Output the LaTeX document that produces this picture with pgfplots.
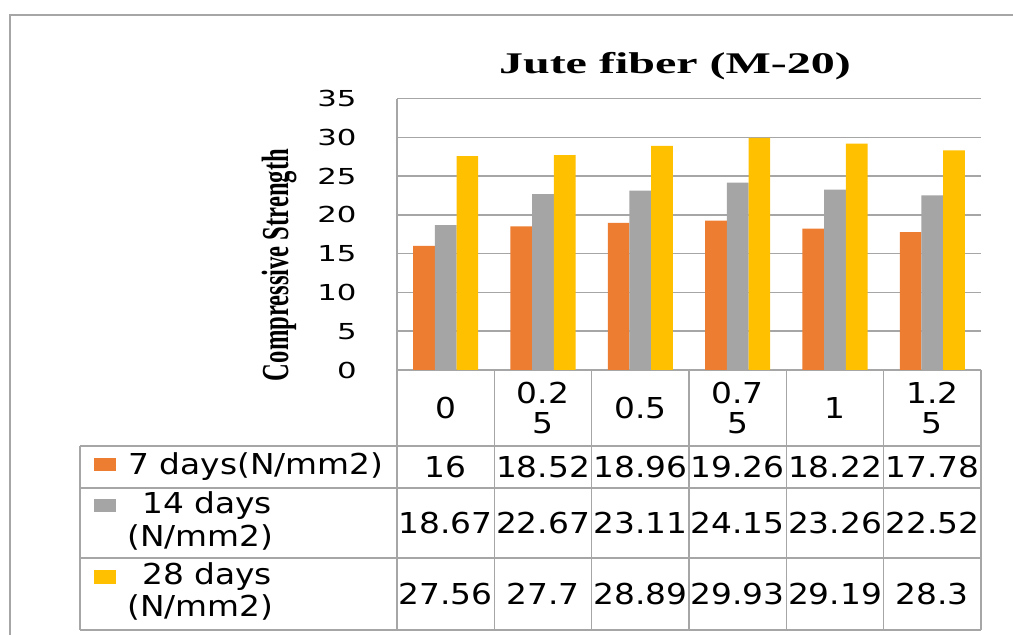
\documentclass[border=0pt]{standalone}
\usepackage{pgfplots}
\pgfplotsset{compat=1.18}
\usepackage{fontspec}
\setmainfont{DejaVu Sans}
\newfontfamily\serifb{Liberation Serif}
\definecolor{c7}{HTML}{ED7D31}
\definecolor{c14}{HTML}{A5A5A5}
\definecolor{c28}{HTML}{FFC000}
\definecolor{gl}{HTML}{A6A6A6}
\newcommand\tc[1]{\scalebox{1.14}[1]{#1}}
\newcommand\tf{\fontsize{14.4}{15}\selectfont}
\begin{document}
\begin{tikzpicture}
\begin{scope}[x=0.5pt,y=-0.5pt]
\useasboundingbox (0,0) rectangle (1013,635);
\fill[white] (0,0) rectangle (1013,635);
\draw[gl, line width=1pt] (10,640) -- (10,15) -- (1013,15);
\end{scope}
\begin{axis}[
  at={(198.5pt,-185pt)}, anchor=south west,
  scale only axis, width=292pt, height=135.75pt,
  xmin=-0.5, xmax=5.5, ymin=0, ymax=35,
  ytick={0,5,...,35}, xtick={0,...,5},
  xticklabels={\tc{0},{\tc{0.2}\\\tc{5}},\tc{0.5},{\tc{0.7}\\\tc{5}},\tc{1},{\tc{1.2}\\\tc{5}}},
  xticklabel style={align=center, font=\tf, anchor=center, yshift=-19pt, inner sep=0pt},
  /pgf/number format/assume math mode=true,
  yticklabel={\scalebox{1.4}[1]{\pgfmathprintnumber{\tick}}},
  yticklabel style={font=\fontsize{11}{11}\selectfont, anchor=east, inner sep=0pt, xshift=-20pt},
  ybar=0pt, bar width=10.85pt,
  axis x line*=bottom, axis y line*=left,
  axis line style={gl, line width=0.75pt, -},
  ymajorgrids, grid style={gl, line width=0.75pt},
  major tick length=0pt,
]
\addplot[fill=c7, draw=none] coordinates {(0,16) (1,18.52) (2,18.96) (3,19.26) (4,18.22) (5,17.78)};
\addplot[fill=c14, draw=none] coordinates {(0,18.67) (1,22.67) (2,23.11) (3,24.15) (4,23.26) (5,22.52)};
\addplot[fill=c28, draw=none] coordinates {(0,27.56) (1,27.7) (2,28.89) (3,29.93) (4,29.19) (5,28.3)};
\end{axis}
\begin{scope}[x=0.5pt,y=-0.5pt]
\draw[gl, line width=0.75pt] (80,446) -- (981,446) (80,488) -- (981,488) (80,558) -- (981,558) (80,630) -- (981,630) (80,446) -- (80,630) (397,370) -- (397,630);
\foreach \k in {1,...,6} {\draw[gl, line width=0.75pt] ({397+97.333*\k},370) -- ({397+97.333*\k},630);}
\foreach \v [count=\i from 0] in {16,18.52,18.96,19.26,18.22,17.78}
  {\node[font=\tf, inner sep=0pt] at ({397+97.333*(\i+0.5)},467) {\tc{\v}};}
\foreach \v [count=\i from 0] in {18.67,22.67,23.11,24.15,23.26,22.52}
  {\node[font=\tf, inner sep=0pt] at ({397+97.333*(\i+0.5)},523) {\tc{\v}};}
\foreach \v [count=\i from 0] in {27.56,27.7,28.89,29.93,29.19,28.3}
  {\node[font=\tf, inner sep=0pt] at ({397+97.333*(\i+0.5)},594) {\tc{\v}};}
\fill[c7] (94,458) rectangle (116,471);
\fill[c14] (94,499) rectangle (116,512);
\fill[c28] (94,570) rectangle (116,584);
\node[anchor=west, font=\tf, inner sep=0pt] at (128,467) {\tc{7 days(N/mm2)}};
\node[anchor=west, font=\tf, inner sep=0pt] at (142,506) {\tc{14 days}};
\node[anchor=west, font=\tf, inner sep=0pt] at (127,537) {\tc{(N/mm2)}};
\node[anchor=west, font=\tf, inner sep=0pt] at (142,577) {\tc{28 days}};
\node[anchor=west, font=\tf, inner sep=0pt] at (127,607) {\tc{(N/mm2)}};
\node[font=\serifb\bfseries\fontsize{15}{15}\selectfont, inner sep=0pt] at (675,66) {\scalebox{1.6}[1]{Jute fiber (M-20)}};
\node[rotate=90, font=\serifb\bfseries\fontsize{12.3}{12}\selectfont, inner sep=0pt] at (279,265) {\scalebox{1}[1.55]{Compressive Strength}};
\end{scope}
\end{tikzpicture}
\end{document}
